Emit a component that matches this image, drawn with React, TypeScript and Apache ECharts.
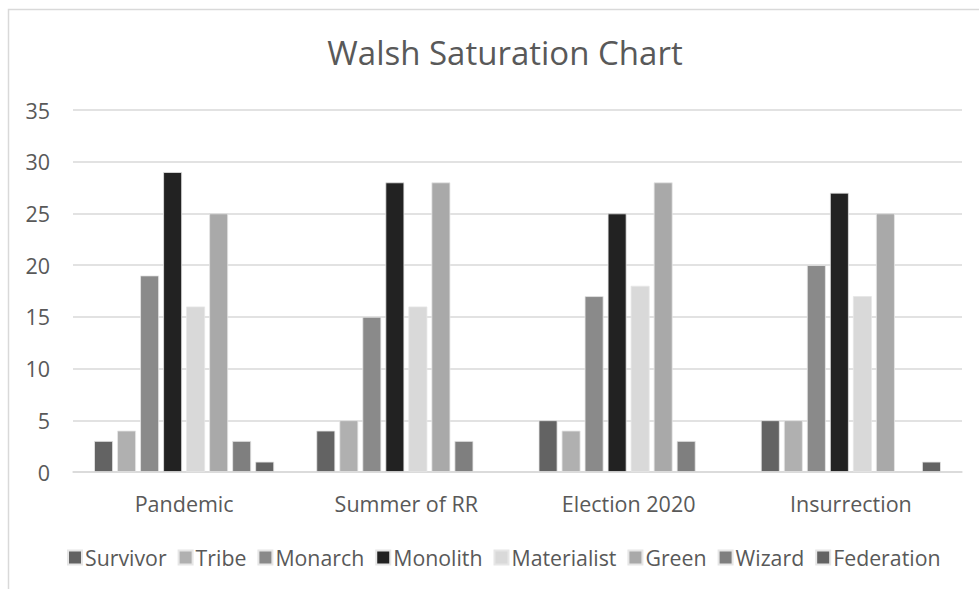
import React, { useEffect, useRef } from "react";
import * as echarts from "echarts";

const categories = ["Pandemic", "Summer of RR", "Election 2020", "Insurrection"];
const seriesNames = ["Survivor", "Tribe", "Monarch", "Monolith", "Materialist", "Green", "Wizard", "Federation"];
const survivor = [3, 4, 5, 5];
const tribe = [4, 5, 4, 5];
const monarch = [19, 15, 17, 20];
const monolith = [29, 28, 25, 27];
const materialist = [16, 16, 18, 17];
const green = [25, 28, 28, 25];
const wizard = [3, 3, 3, null];
const federation = [1, null, null, 1];
const seriesValues = [survivor, tribe, monarch, monolith, materialist, green, wizard, federation];
const colors = ["#636363", "#b0b0b0", "#8a8a8a", "#222222", "#d9d9d9", "#a9a9a9", "#7f7f7f", "#636363"];

const FONT = "Open Sans";

export default function App() {
  const ref = useRef<HTMLDivElement>(null);
  useEffect(() => {
    document.body.style.margin = "0";
    const chart = echarts.init(ref.current!, null, { renderer: "svg" });
    chart.setOption({
      animation: false,
      backgroundColor: "#ffffff",
      title: {
        text: "Walsh Saturation Chart",
        left: 500,
        textAlign: "center",
        top: 31,
        textStyle: { fontFamily: FONT, fontSize: 33, fontWeight: "normal", color: "#595959" },
      },
      graphic: [
        {
          type: "rect",
          shape: { x: 8.5, y: 9.5, width: 1000, height: 640 },
          style: { fill: "none", stroke: "#d9d9d9", lineWidth: 1.5 },
          silent: true,
        },
      ],
      legend: {
        bottom: 16,
        left: 62,
        icon: "rect",
        itemWidth: 14,
        itemHeight: 14,
        itemGap: 11,
        textStyle: { fontFamily: FONT, fontSize: 21.3, color: "#595959", padding: [0, 0, 0, -2] },
        data: seriesNames,
      },
      grid: { left: 73, right: 17, top: 110, bottom: 117, containLabel: false },
      xAxis: {
        type: "category",
        data: categories,
        axisLine: { lineStyle: { color: "#d9d9d9", width: 1.5 } },
        axisTick: { show: false },
        axisLabel: { fontFamily: FONT, fontSize: 21.5, color: "#595959", margin: 20 },
      },
      yAxis: {
        type: "value",
        min: 0,
        max: 35,
        interval: 5,
        axisLine: { show: false },
        axisTick: { show: false },
        splitLine: { lineStyle: { color: "#d9d9d9", width: 1.5 } },
        axisLabel: { fontFamily: FONT, fontSize: 21.5, color: "#595959", margin: 23 },
      },
      series: seriesNames.map((name, i) => ({
        name,
        type: "bar",
        data: seriesValues[i],
        barGap: "22%",
        barCategoryGap: "19%",
        itemStyle: { color: colors[i], borderColor: "#e6e6e6", borderWidth: 0.8 },
      })),
    });
    return () => chart.dispose();
  }, []);
  return <div ref={ref} style={{ width: 979, height: 589 }} />;
}
